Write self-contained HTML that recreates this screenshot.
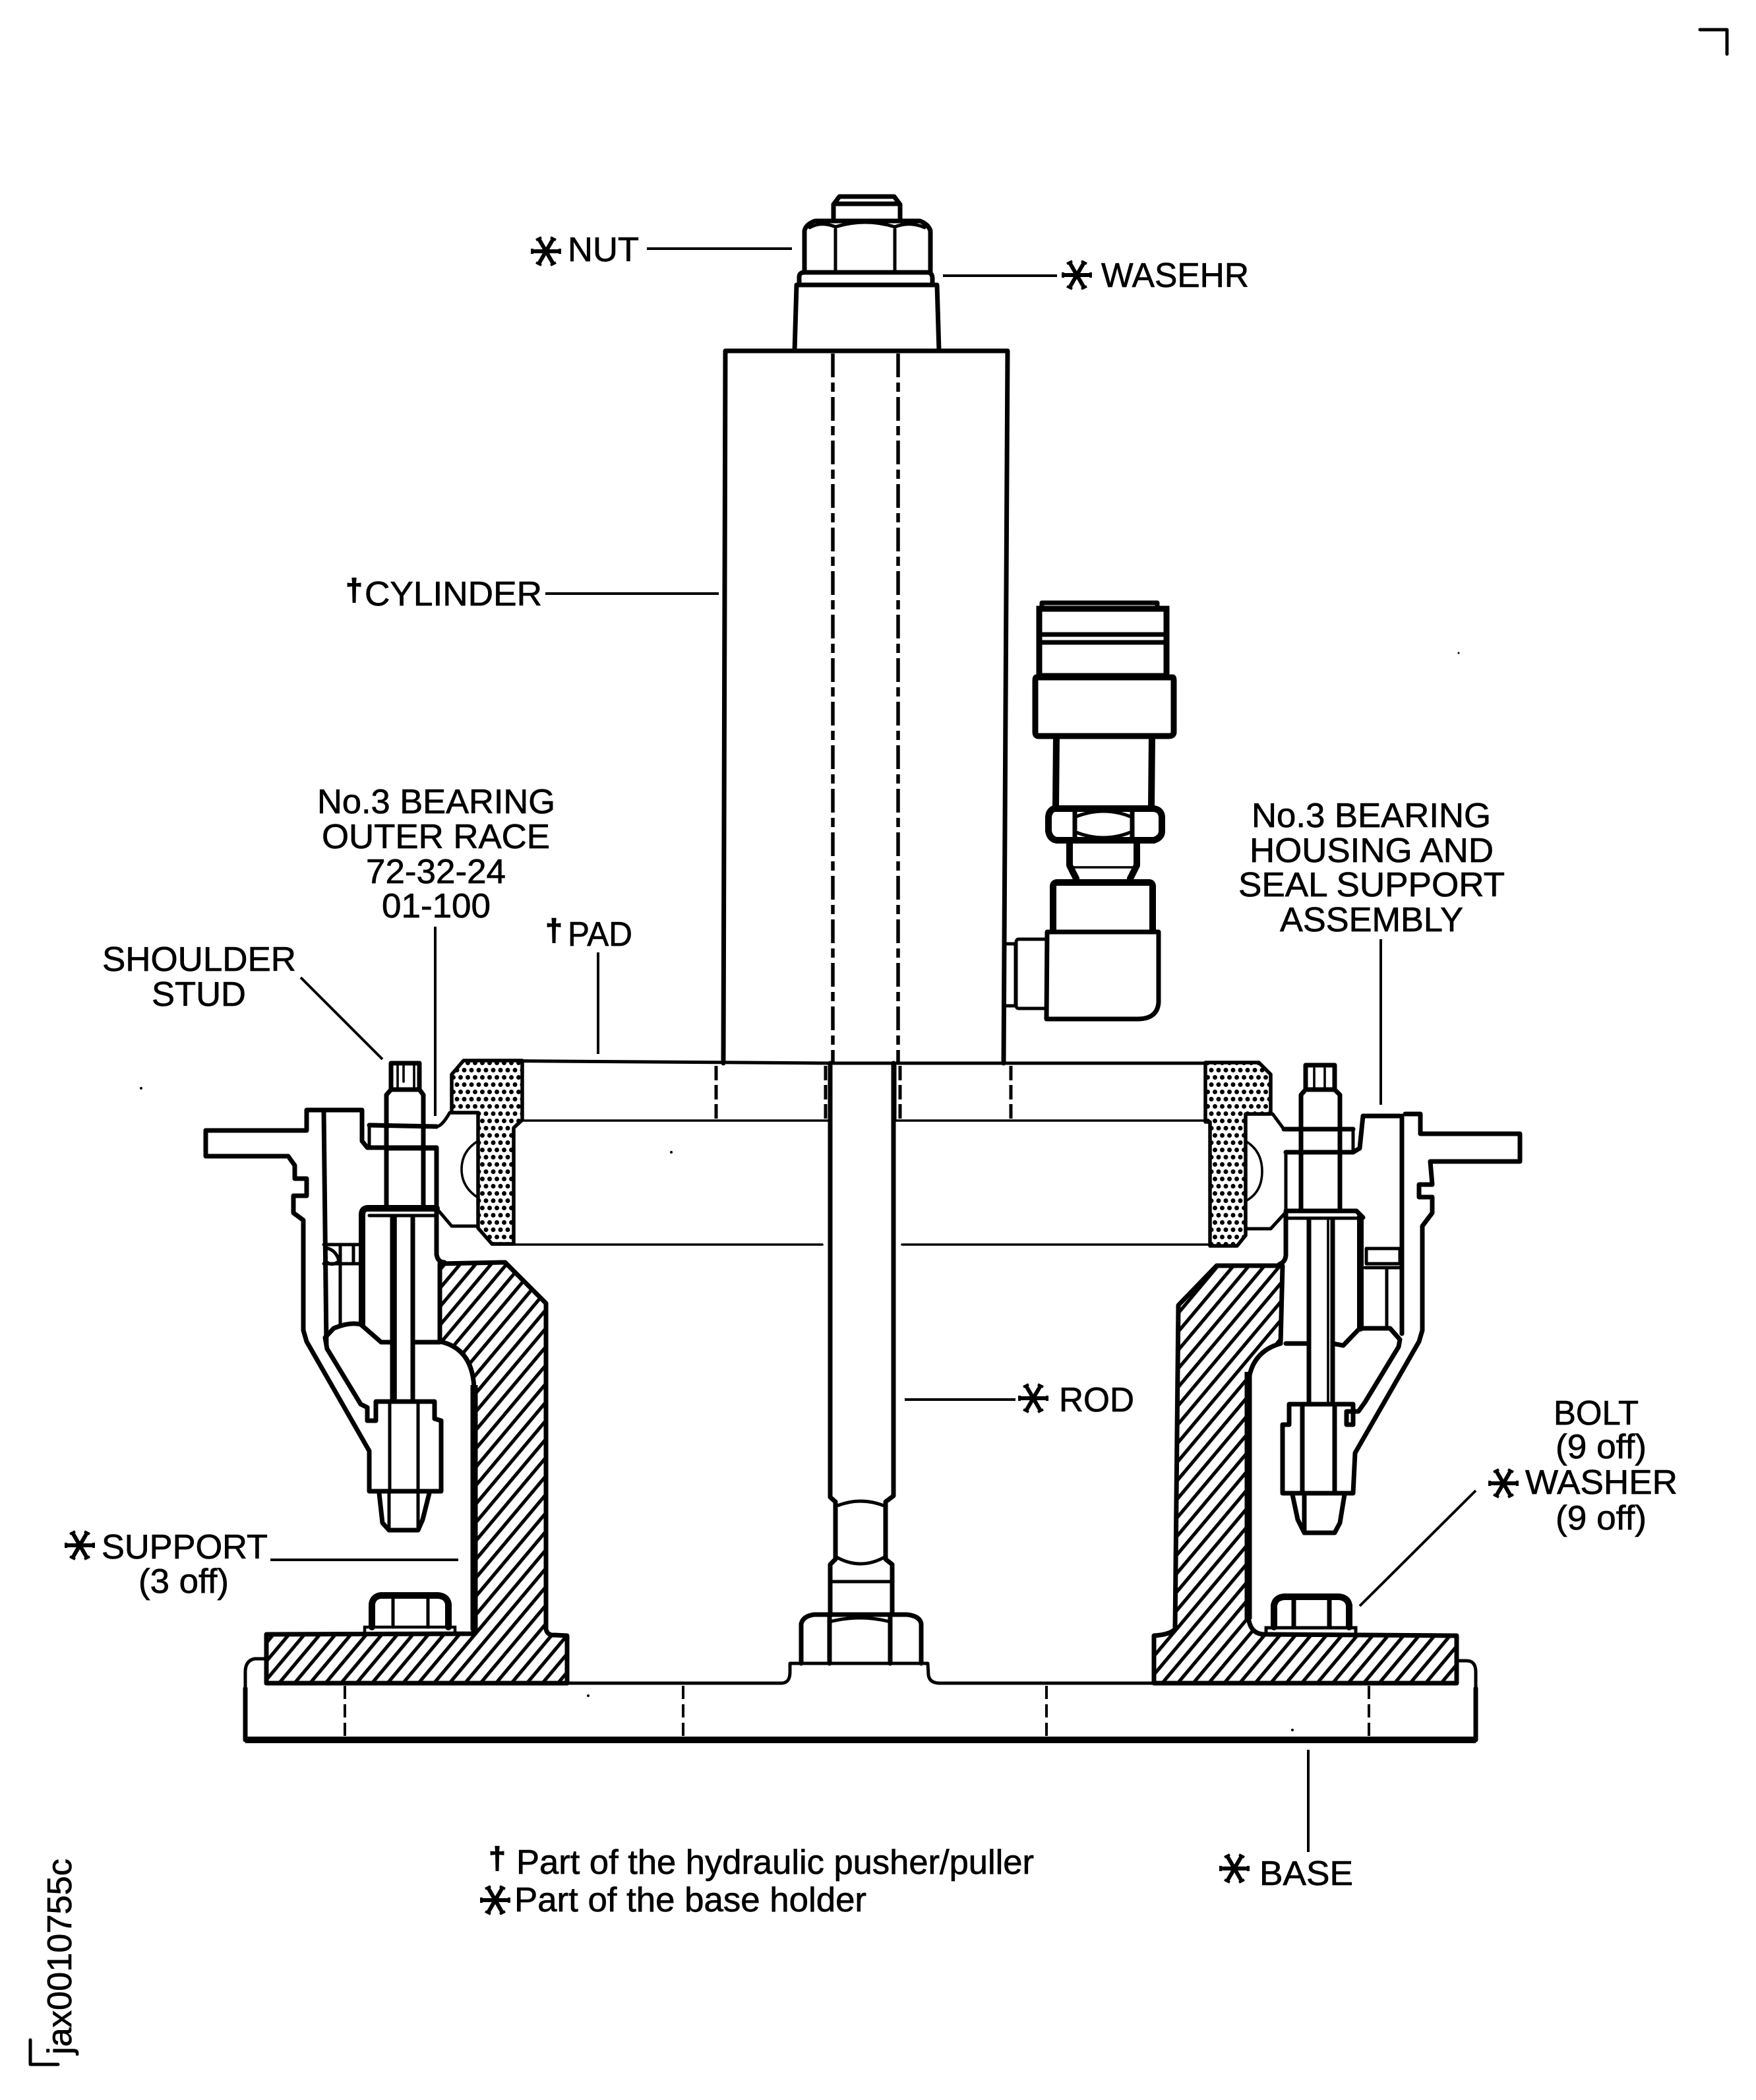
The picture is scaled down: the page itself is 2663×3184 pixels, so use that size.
<!DOCTYPE html>
<html lang="en"><head><meta charset="utf-8"><title>Base holder</title>
<style>
html,body{margin:0;padding:0;background:#fff}
svg{display:block}
text{font-family:"Liberation Sans",sans-serif;font-size:52px;fill:#000;stroke:#000;stroke-width:.7}
.h{fill:none;stroke:#000;stroke-width:7;stroke-linejoin:round;stroke-linecap:round}
.x{fill:none;stroke:#000;stroke-width:10;stroke-linejoin:round;stroke-linecap:round}
.m{fill:none;stroke:#000;stroke-width:5;stroke-linejoin:round;stroke-linecap:round}
.t{fill:none;stroke:#000;stroke-width:3.6;stroke-linejoin:round;stroke-linecap:round}
.l{fill:none;stroke:#000;stroke-width:4}
.d{font-weight:bold;font-size:46px;text-anchor:middle;stroke-width:1.5}
</style></head><body>
<svg xmlns="http://www.w3.org/2000/svg" width="2663" height="3184" viewBox="0 0 2663 3184">
<defs>
<pattern id="hatch" width="18" height="18" patternUnits="userSpaceOnUse" patternTransform="rotate(-50)">
<rect width="18" height="18" fill="#fff"/><rect width="18" height="5.2" y="0" fill="#000"/>
</pattern>
<pattern id="dots" width="22" height="22" patternUnits="userSpaceOnUse">
<rect width="22" height="22" fill="#fff"/>
<circle cx="5.5" cy="5.5" r="3.5" fill="#000"/><circle cx="16.5" cy="5.5" r="3.5" fill="#000"/>
<circle cx="0" cy="16.5" r="3.5" fill="#000"/><circle cx="11" cy="16.5" r="3.5" fill="#000"/><circle cx="22" cy="16.5" r="3.5" fill="#000"/>
</pattern>
<g id="star" stroke="#000" fill="none" stroke-linecap="butt">
<path d="M-21,0H21M-11,-19L11,19M11,-19L-11,19" stroke-width="6"/>
<path d="M-21,-4L-21,4M21,-4L21,4M-15,-17L-7,-21M15,-17L7,-21M-15,17L-7,21M15,17L7,21" stroke-width="4"/>
</g>
</defs>
<rect width="2663" height="3184" fill="#fff"/>

<!-- crop marks -->
<path d="M2578,45H2619V82" class="m"/>
<path d="M46,3093V3130H88" class="m"/>

<!-- cylinder and top stud -->
<path d="M1100,532H1528L1522,1612M1100,532L1097,1612" class="h"/>
<path d="M1263,536V1612M1362,536V1612" fill="none" stroke="#000" stroke-width="5.5" stroke-dasharray="36 8 14 8"/>
<path d="M1205,532L1208,432H1421L1424,532" class="h"/>
<path d="M1212,432V420Q1212,413 1220,413H1406Q1414,413 1414,422V432Z" class="h"/>
<path d="M1264,335V310L1273,298H1356L1365,310V335" class="h"/>
<path d="M1266,309H1364" class="h"/>
<path d="M1220,413V350Q1222,340 1236,335H1395Q1408,340 1411,350V413" class="h"/>
<path d="M1267,413V348M1357,413V348" class="m"/>
<path d="M1267,344Q1245,335 1228,345M1267,344Q1312,330 1357,344M1357,344Q1380,335 1402,345" class="m"/>

<!-- connector -->
<path d="M1580,914H1755V923M1580,914V923" class="h"/>
<rect x="1576" y="923" width="193" height="102" fill="none" stroke="#000" stroke-width="9"/>
<path d="M1578,962H1767M1578,974H1767" class="h"/>
<path d="M1572,1027H1778Q1780,1027 1780,1032V1110Q1780,1116 1772,1116H1575Q1570,1116 1570,1110V1032Q1570,1027 1572,1027Z" fill="none" stroke="#000" stroke-width="9"/>
<path d="M1602,1117L1601,1224M1747,1117L1746,1224" fill="none" stroke="#000" stroke-width="10"/>
<path d="M1598,1226Q1590,1230 1590,1240V1260Q1592,1272 1602,1274H1750Q1762,1270 1762,1260V1240Q1762,1228 1750,1226Z" class="x"/>
<path d="M1630,1226V1274M1717,1226V1274" class="h"/>
<path d="M1632,1238Q1674,1222 1714,1238M1632,1262Q1674,1278 1714,1262" class="m"/>
<path d="M1622,1276V1312L1632,1332M1724,1276V1312L1714,1332" class="x"/>
<path d="M1628,1315H1718" class="t"/>
<path d="M1597,1411V1344Q1597,1338 1604,1338H1742Q1748,1338 1748,1344V1411" class="x"/>
<path d="M1588,1413H1757V1520Q1755,1545 1725,1545H1587Z" class="h"/>
<path d="M1587,1424H1545Q1541,1424 1541,1429V1524Q1541,1529 1545,1529H1587" class="m"/>
<path d="M1540,1431H1523V1525H1540Z" class="m"/>

<!-- pad / bearing horizontals -->
<path d="M703,1608L1259,1612H1909" class="m"/>
<path d="M779,1699H1259M1355,1699H1835" class="t"/>
<path d="M746,1887H1247M1368,1887H1876" class="t"/>
<path d="M1086,1616V1697M1533,1616V1697M1252,1616V1697M1365,1616V1697" fill="none" stroke="#000" stroke-width="5" stroke-dasharray="22 7"/>
<path d="M1357,1616V1697" class="m"/>

<!-- rod -->
<path d="M1259,1612V2270L1267,2277V2364L1259,2372V2448M1355,1612V2268L1343,2277V2364L1353,2372V2448" class="h"/>
<path d="M1267,2284Q1305,2268 1343,2284M1267,2360Q1305,2382 1343,2360" class="m"/>
<path d="M1259,2398H1353" class="m"/>

<!-- supports hatched -->
<path d="M667,1916L766,1914L828,1976L828,2470Q830,2480 841,2479L860,2480V2552H404V2478L717,2477L719,2470V2110Q719,2045 667,2034Z" fill="url(#hatch)" stroke="#000" stroke-width="7" stroke-linejoin="round"/>
<path d="M719,2100V2472" fill="none" stroke="#000" stroke-width="11"/>
<path d="M1945,1919L1845,1919L1787,1979L1782,2470Q1775,2478 1750,2480V2552H2209V2480L1918,2478Q1895,2478 1893,2450V2100Q1896,2050 1942,2037Z" fill="url(#hatch)" stroke="#000" stroke-width="7" stroke-linejoin="round"/>
<path d="M1893,2080V2455" fill="none" stroke="#000" stroke-width="11"/>

<!-- base -->
<path d="M404,2515H386Q372,2518 372,2535V2638H2238V2535Q2238,2518 2224,2518H2209" class="m"/>
<path d="M372,2560V2638M2238,2560V2638" class="h"/>
<path d="M372,2638H2238" fill="none" stroke="#000" stroke-width="10"/>
<path d="M860,2552H1185Q1198,2552 1198,2535V2522H1407L1408,2540Q1410,2552 1425,2552H1750" class="m"/>
<path d="M523,2556V2636M1036,2556V2636M1587,2556V2636M2076,2556V2636" fill="none" stroke="#000" stroke-width="4" stroke-dasharray="20 8"/>

<!-- centre nut -->
<path d="M1215,2522V2462Q1218,2450 1235,2448H1375Q1395,2450 1397,2462V2522" class="h"/>
<path d="M1258,2450V2522M1350,2450V2522" class="h"/>
<path d="M1262,2458Q1304,2448 1346,2458" class="m"/>

<!-- base bolts -->
<rect x="553" y="2467" width="137" height="11" fill="none" stroke="#000" stroke-width="4.5"/>
<path d="M564,2467V2432Q566,2420 578,2419H664Q678,2420 680,2432V2467" class="x"/>
<path d="M596,2424V2467M649,2424V2467" class="m"/>
<rect x="1920" y="2468" width="136" height="11" fill="none" stroke="#000" stroke-width="5"/>
<path d="M1932,2467V2434Q1934,2422 1948,2421H2030Q2044,2422 2046,2434V2467" class="x"/>
<path d="M1962,2426V2467M2016,2426V2467" class="h"/>

<!-- stipple parts -->
<path d="M703,1608H792V1698L779,1710V1886H746L725,1862V1687H685V1629Z" fill="url(#dots)" stroke="#000" stroke-width="5.5" stroke-linejoin="round"/>
<path d="M1828,1611H1909L1927,1629V1689H1889V1873L1876,1889H1835V1701H1828Z" fill="url(#dots)" stroke="#000" stroke-width="5.5" stroke-linejoin="round"/>

<!-- LEFT ASSEMBLY -->
<path d="M312,1714H465V1683H549V1730L557,1740H662V1830V1902Q664,1914 674,1914" class="h"/>
<path d="M662,1741V1832" class="m"/>
<path d="M312,1714V1753H437L447,1767V1787H465V1813H445V1839L460,1850V2017L465,2034L560,2200V2261H669V2154L659,2151V2125H570V2154H557V2134L547,2129L496,2045L493,2028L506,2014Q530,2004 547,2008L578,2035H595" class="h"/>
<path d="M491,1684L495,2040" class="h"/>
<path d="M560,1740V1705L662,1708Q670,1708 682,1687H725" class="m"/>
<path d="M560,1706L662,1708" class="h"/>
<path d="M662,1832L685,1859H725" class="m"/>
<path d="M725,1730Q700,1745 700,1773Q700,1800 725,1816" class="t"/>
<path d="M593,1652V1612H636V1652" class="h"/>
<path d="M603,1616V1650M628,1616V1650M612,1616V1640" class="t"/>
<path d="M586,1832V1660L593,1652H636L642,1660V1832" class="h"/>
<path d="M586,1741H662" class="h"/>
<path d="M549,2008V1842Q549,1832 558,1832H662" class="x"/>
<path d="M560,1843H662" class="m"/>
<path d="M595,1845V2125M626,1845V2125" class="h"/>
<path d="M600,1845V2120" class="t"/>
<path d="M628,2035H667" class="h"/>
<path d="M591,2127V2262M634,2127V2262" class="m"/>
<path d="M575,2264L580,2309L590,2320H634L641,2304L651,2264" class="h"/>
<path d="M590,2264V2318M634,2264V2318" class="m"/>
<path d="M491,1887H544M491,1916H547" class="m"/>
<path d="M516,1890V2008" class="m"/>
<path d="M536,1890V1914" class="m"/>
<path d="M494,1892Q510,1895 514,1912Q505,1920 496,1914" class="m"/>

<!-- RIGHT ASSEMBLY -->
<path d="M1930,1689L1947,1712H2052V1747H1950V1839" class="m"/>
<path d="M1947,1712H2052" class="h"/>
<path d="M1950,1747H2052" class="h"/>
<path d="M1889,1730Q1914,1745 1914,1776Q1914,1808 1889,1821" class="t"/>
<path d="M1889,1863H1927L1949,1839" class="m"/>
<path d="M2052,1747L2062,1741L2067,1692H2123" class="h"/>
<path d="M2126,1692L2126,2022" class="h"/>
<path d="M2131,1689H2154V1719H2305V1761H2169L2172,1796H2152V1815H2172V1839L2157,1859V2017L2152,2034L2055,2203L2052,2264H1945V2160H1955V2129H2052V2160H2042V2140H2060L2070,2126L2121,2042L2123,2031L2108,2014H2062L2037,2040L2021,2037" class="h"/>
<path d="M2063,1844V2014" class="x"/>
<path d="M1950,1836H2057L2067,1846" class="h"/>
<path d="M1952,1847H2060" class="m"/>
<path d="M1950,1839V1902Q1950,1913 1940,1917" class="h"/>
<path d="M1950,2037H1983" class="h"/>
<path d="M1973,1836V1660L1980,1652H2024L2032,1660V1836" class="h"/>
<path d="M1980,1652V1615H2024V1652" class="h"/>
<path d="M1993,1620V1650M2009,1620V1650" class="t"/>
<path d="M1985,1850V2126M2021,1850V2126" class="h"/>
<path d="M2014,1850V2125" class="t"/>
<path d="M1975,2129V2264M2024,2129V2264" class="h"/>
<path d="M1960,2266L1968,2304L1978,2324H2024L2032,2309L2039,2266" class="h"/>
<path d="M1978,2266V2322" class="h"/>
<path d="M2072,1893H2123V1916H2072Z" class="m"/>
<path d="M2070,1922H2126" class="m"/>
<path d="M2103,1922V2011" class="m"/>

<!-- leaders -->
<path d="M981,377H1201M1430,418H1603M827,900H1090M456,1482L580,1606M660,1405V1692M907,1444V1598M2094,1424V1675M1372,2122H1540M410,2365H695M2238,2260L2062,2435M1984,2653V2808" class="l"/>

<!-- specks -->
<circle cx="214" cy="1650" r="2" fill="#000"/><circle cx="892" cy="2571" r="2" fill="#000"/>
<circle cx="1960" cy="2623" r="2" fill="#000"/><circle cx="1018" cy="1747" r="2" fill="#000"/>
<circle cx="2212" cy="990" r="1.5" fill="#000"/>

<!-- stars -->
<use href="#star" x="828" y="381"/>
<use href="#star" x="1633" y="417"/>
<use href="#star" x="1567" y="2120"/>
<use href="#star" x="121" y="2343"/>
<use href="#star" x="2280" y="2249"/>
<use href="#star" x="1872" y="2833"/>
<use href="#star" x="751" y="2881"/>

<!-- daggers -->
<text class="d" x="537" y="910">†</text>
<text class="d" x="840" y="1426">†</text>
<text class="d" x="754" y="2833">†</text>

<!-- labels -->
<text x="861" y="396" textLength="108" lengthAdjust="spacingAndGlyphs">NUT</text>
<text x="1670" y="435" textLength="224" lengthAdjust="spacingAndGlyphs">WASEHR</text>
<text x="553" y="918" textLength="269" lengthAdjust="spacingAndGlyphs">CYLINDER</text>
<text x="481" y="1233" textLength="361" lengthAdjust="spacingAndGlyphs">No.3 BEARING</text>
<text x="488" y="1286" textLength="346" lengthAdjust="spacingAndGlyphs">OUTER RACE</text>
<text x="555" y="1339" textLength="212" lengthAdjust="spacingAndGlyphs">72-32-24</text>
<text x="579" y="1391" textLength="165" lengthAdjust="spacingAndGlyphs">01-100</text>
<text x="861" y="1434" textLength="98" lengthAdjust="spacingAndGlyphs">PAD</text>
<text x="155" y="1472" textLength="294" lengthAdjust="spacingAndGlyphs">SHOULDER</text>
<text x="230" y="1525" textLength="143" lengthAdjust="spacingAndGlyphs">STUD</text>
<text x="1898" y="1254" textLength="363" lengthAdjust="spacingAndGlyphs">No.3 BEARING</text>
<text x="1895" y="1307" textLength="370" lengthAdjust="spacingAndGlyphs">HOUSING AND</text>
<text x="1878" y="1359" textLength="404" lengthAdjust="spacingAndGlyphs">SEAL SUPPORT</text>
<text x="1941" y="1412" textLength="278" lengthAdjust="spacingAndGlyphs">ASSEMBLY</text>
<text x="1606" y="2140" textLength="114" lengthAdjust="spacingAndGlyphs">ROD</text>
<text x="2356" y="2160" textLength="129" lengthAdjust="spacingAndGlyphs">BOLT</text>
<text x="2359" y="2211" textLength="138" lengthAdjust="spacingAndGlyphs">(9 off)</text>
<text x="2313" y="2265" textLength="231" lengthAdjust="spacingAndGlyphs">WASHER</text>
<text x="2359" y="2319" textLength="138" lengthAdjust="spacingAndGlyphs">(9 off)</text>
<text x="154" y="2363" textLength="252" lengthAdjust="spacingAndGlyphs">SUPPORT</text>
<text x="210" y="2415" textLength="137" lengthAdjust="spacingAndGlyphs">(3 off)</text>
<text x="1910" y="2858" textLength="142" lengthAdjust="spacingAndGlyphs">BASE</text>
<text x="783" y="2841" textLength="785" lengthAdjust="spacingAndGlyphs">Part of the hydraulic pusher/puller</text>
<text x="780" y="2898" textLength="534" lengthAdjust="spacingAndGlyphs">Part of the base holder</text>
<text transform="translate(108,3115) rotate(-90)" textLength="297" lengthAdjust="spacingAndGlyphs">jax0010755c</text>
</svg>
</body></html>
